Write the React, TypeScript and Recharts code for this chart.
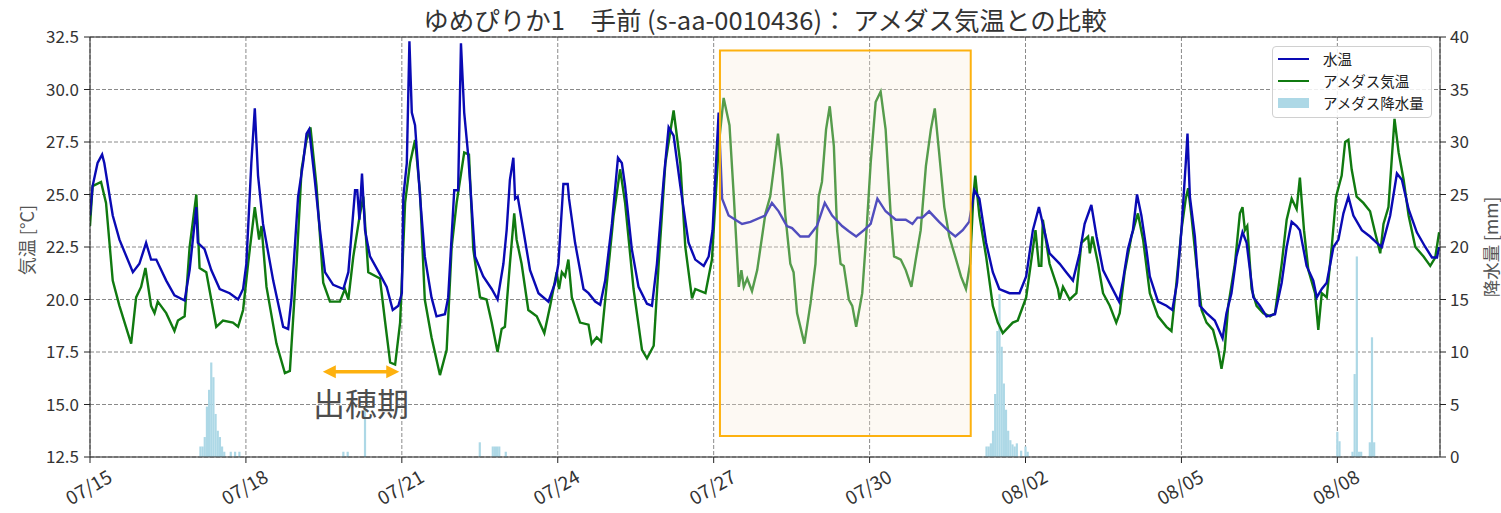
import React from 'react';
import {
  ComposedChart, Line, Bar, XAxis, YAxis, CartesianGrid,
  ReferenceArea, ReferenceLine, ReferenceDot, Legend,
} from 'recharts';

const FONT = '"Noto Sans CJK JP", "Noto Sans", sans-serif';
const BLUE = '#0a0ab4';
const GREEN = '#107a10';
const RAIN = '#add8e6';
const ORANGE = '#FDB10F';

const chartTitle = 'ゆめぴりか1　手前 (s-aa-0010436)： アメダス気温との比較';
const seriesNames = ['水温', 'アメダス気温', 'アメダス降水量'];
const leftAxisTitle = '気温 [°C]';
const rightAxisTitle = '降水量 [mm]';
const headingText = '出穂期';

// hours since 07/15 00:00
const tickHours = [0, 72, 144, 216, 288, 360, 432, 504, 576];
const tickLabels = ['07/15', '07/18', '07/21', '07/24', '07/27', '07/30', '08/02', '08/05', '08/08'];
const tempTicks = [12.5, 15, 17.5, 20, 22.5, 25, 27.5, 30, 32.5];
const rainTicks = [0, 5, 10, 15, 20, 25, 30, 35, 40];

// [hour, °C]
const waterTemp: [number, number][] = [
  [0, 24.0], [1.2, 25.4], [3.5, 26.5], [5.6, 26.9], [6.6, 26.5], [10.5, 24.0], [13.6, 22.85], [19.8, 21.3],
  [22.8, 21.7], [25.9, 22.7], [28.2, 21.9], [30.6, 21.9], [35.2, 20.9], [39.0, 20.2], [43.7, 19.95], [46.0, 21.4],
  [49.1, 24.4], [49.8, 22.7], [52.9, 22.4], [56.0, 21.4], [59.9, 20.5], [64.5, 20.3], [68.4, 20.0], [70.7, 20.5],
  [72.2, 21.7], [74.5, 26.5], [76.1, 29.1], [77.6, 25.9], [79.9, 23.6], [84.6, 20.9], [89.2, 18.7], [91.5, 18.6],
  [93.0, 20.0], [96.1, 24.9], [98.4, 26.5], [100.0, 27.9], [101.2, 28.1], [103.8, 25.7], [106.2, 23.3], [108.5, 21.3],
  [112.3, 20.7], [117.0, 20.5], [119.3, 21.3], [122.4, 25.2], [123.4, 25.2], [124.4, 23.8], [125.6, 26.0], [127.0, 23.3],
  [129.3, 22.05], [133.9, 21.2], [137.0, 20.6], [139.8, 19.5], [142.4, 19.7], [144.0, 20.3], [144.7, 24.9], [146.3, 26.5],
  [147.5, 32.3], [148.6, 28.9], [150.1, 28.3], [152.4, 24.9], [154.6, 22.05], [157.7, 20.1], [160.0, 19.2], [163.9, 19.3],
  [165.4, 20.1], [168.2, 25.2], [170.0, 25.2], [171.3, 32.2], [172.8, 28.9], [174.7, 26.8], [177.8, 22.05], [181.6, 21.1],
  [185.5, 20.5], [188.2, 20.0], [190.9, 21.7], [192.4, 23.3], [193.9, 25.7], [195.5, 26.75], [196.3, 24.8], [197.5, 24.9],
  [199.3, 23.8], [203.2, 21.4], [207.1, 20.3], [211.7, 19.9], [214.8, 20.8], [216.3, 21.7], [218.6, 25.5], [220.6, 25.5],
  [221.2, 24.8], [224.0, 22.7], [227.9, 20.5], [230.2, 20.3], [233.3, 19.9], [235.6, 19.75], [237.9, 20.9], [241.0, 23.6],
  [243.8, 26.75], [245.6, 26.5], [247.1, 25.4], [250.2, 22.4], [253.3, 20.6], [257.2, 19.8], [259.5, 19.7], [261.8, 21.7],
  [264.9, 25.7], [267.2, 28.2], [269.5, 27.8], [272.6, 25.4], [276.4, 22.7], [279.5, 21.9], [283.4, 21.6], [285.7, 22.05],
  [287.5, 23.3], [290.3, 28.9], [291.9, 24.8], [294.9, 24.0], [301.1, 23.6], [305.0, 23.7], [311.8, 24.0], [314.9, 24.6],
  [318.0, 24.2], [321.8, 23.5], [324.2, 23.4], [328.0, 23.0], [331.9, 23.0], [335.7, 23.5], [339.3, 24.6], [342.7, 24.0],
  [347.3, 23.5], [350.4, 23.25], [353.8, 23.0], [357.4, 23.3], [360.5, 23.6], [363.6, 24.8], [367.4, 24.2], [372.1, 23.8],
  [376.7, 23.8], [379.8, 23.6], [382.1, 23.9], [384.4, 23.9], [387.5, 24.2], [392.1, 23.7], [396.0, 23.3], [399.6, 23.0],
  [403.0, 23.3], [406.0, 23.7], [408.4, 25.2], [410.7, 24.8], [413.8, 22.7], [416.9, 21.3], [419.9, 20.5], [424.6, 20.3],
  [429.2, 20.3], [432.3, 21.1], [435.4, 23.3], [438.2, 24.4], [440.0, 23.6], [443.1, 22.2], [447.8, 21.7], [450.8, 21.3],
  [453.9, 20.9], [457.0, 22.2], [459.3, 23.6], [462.4, 24.5], [464.8, 23.0], [467.8, 21.4], [471.7, 20.6], [475.2, 19.9],
  [477.0, 20.9], [479.3, 22.4], [481.6, 23.3], [483.5, 25.0], [485.5, 24.0], [487.8, 22.4], [489.4, 21.1], [493.2, 19.9],
  [497.1, 19.7], [499.8, 19.5], [502.0, 20.8], [504.0, 23.3], [506.0, 26.5], [506.8, 27.9], [507.9, 24.9], [510.2, 23.0],
  [512.5, 19.7], [515.6, 19.35], [519.4, 19.0], [523.0, 18.15], [524.8, 19.35], [527.1, 20.3], [529.4, 22.05], [531.0, 22.7],
  [532.2, 23.2], [534.1, 22.7], [537.2, 20.1], [540.2, 19.7], [543.3, 19.2], [547.2, 19.3], [550.3, 20.8], [552.6, 22.5],
  [554.9, 23.7], [557.2, 23.5], [558.7, 23.3], [561.8, 21.6], [564.9, 20.9], [566.5, 20.1], [568.8, 20.5], [571.1, 20.8],
  [574.2, 22.5], [576.5, 22.85], [578.8, 24.1], [581.1, 24.9], [583.4, 24.0], [587.3, 23.3], [591.1, 23.0], [594.2, 22.7],
  [596.5, 22.5], [600.4, 24.0], [603.5, 26.0], [605.8, 25.7], [608.9, 24.3], [612.7, 23.2], [616.6, 22.5], [619.7, 22.0],
  [622.0, 22.0], [623.0, 22.5],
];

// [hour, °C]
const airTemp: [number, number][] = [
  [0, 23.5], [1.2, 25.4], [5.1, 25.6], [7.4, 24.6], [10.5, 20.9], [13.6, 19.7], [19.0, 17.9], [21.3, 20.1],
  [23.6, 20.6], [25.6, 21.5], [28.2, 19.7], [29.8, 19.35], [31.3, 19.9], [35.2, 19.35], [39.0, 18.5], [40.6, 19.0],
  [43.7, 19.2], [46.0, 22.5], [49.1, 25.0], [50.6, 21.5], [53.7, 21.3], [58.3, 18.7], [61.4, 19.0], [66.0, 18.9],
  [68.4, 18.7], [70.7, 19.5], [73.0, 21.7], [76.1, 24.4], [78.1, 22.85], [79.2, 23.5], [81.5, 20.6], [86.1, 17.9],
  [90.0, 16.5], [92.3, 16.6], [95.4, 21.7], [97.7, 26.2], [100.0, 27.6], [101.8, 28.2], [104.6, 25.4], [107.7, 20.8],
  [110.8, 19.9], [115.4, 19.9], [117.7, 20.5], [119.3, 20.0], [121.6, 22.05], [124.4, 23.9], [126.2, 24.9], [128.5, 21.3],
  [133.9, 21.0], [136.2, 19.0], [138.6, 17.0], [140.9, 16.9], [143.2, 18.9], [145.5, 24.6], [147.8, 26.5], [150.1, 27.6],
  [152.4, 25.1], [154.6, 20.0], [157.7, 18.2], [161.6, 16.4], [164.7, 17.6], [167.0, 22.5], [169.3, 24.6], [172.8, 27.0],
  [175.0, 26.9], [177.0, 22.4], [180.1, 20.1], [183.1, 20.0], [185.5, 18.9], [188.2, 17.5], [190.1, 18.6], [191.6, 18.7],
  [193.9, 21.7], [195.9, 24.1], [197.0, 22.85], [199.3, 21.7], [202.4, 19.5], [206.3, 19.2], [209.8, 18.4], [212.5, 19.7],
  [215.5, 21.3], [216.6, 20.5], [217.9, 21.3], [219.4, 21.1], [220.9, 21.9], [222.5, 20.1], [226.3, 18.9], [230.2, 18.8],
  [231.7, 17.9], [234.0, 18.2], [236.0, 18.0], [238.7, 20.8], [241.8, 24.0], [244.8, 26.2], [247.1, 24.6], [251.0, 20.5],
  [254.9, 17.6], [257.2, 17.2], [260.3, 17.8], [262.6, 21.7], [265.7, 26.5], [269.5, 29.0], [272.6, 26.5], [274.9, 22.5],
  [278.0, 20.05], [279.5, 20.5], [284.2, 20.3], [287.2, 21.9], [290.3, 27.3], [292.6, 29.6], [295.3, 28.3], [297.3, 24.9],
  [299.6, 20.6], [300.8, 21.4], [301.9, 20.6], [303.5, 21.0], [305.7, 20.4], [308.1, 21.4], [311.9, 24.1], [314.1, 24.9],
  [315.7, 26.2], [317.7, 27.9], [319.5, 26.2], [321.1, 24.0], [323.4, 21.7], [324.9, 21.3], [326.5, 19.35], [329.9, 17.9],
  [332.7, 19.8], [335.0, 21.7], [336.5, 24.9], [338.0, 25.6], [339.9, 28.1], [341.6, 29.2], [343.5, 27.3], [345.0, 23.3],
  [346.6, 21.7], [348.1, 21.6], [350.4, 20.0], [352.0, 19.7], [353.8, 18.7], [356.6, 20.3], [358.1, 22.5], [360.5, 26.5],
  [362.8, 29.4], [365.1, 29.9], [367.4, 28.1], [369.7, 24.1], [371.3, 22.05], [374.4, 21.9], [376.7, 21.4], [379.3, 20.6],
  [381.3, 21.9], [383.6, 23.3], [386.0, 26.35], [388.3, 28.1], [390.1, 29.1], [392.1, 27.0], [394.5, 24.4], [396.8, 23.0],
  [399.1, 22.2], [402.2, 21.1], [404.5, 20.5], [406.4, 21.7], [407.9, 24.9], [408.8, 25.9], [410.7, 24.0], [413.8, 22.05],
  [416.9, 19.7], [419.2, 18.9], [421.5, 18.4], [426.1, 18.9], [428.4, 19.0], [432.3, 20.1], [436.6, 23.3], [438.2, 21.6],
  [439.3, 21.6], [440.0, 23.8], [443.1, 21.7], [447.0, 20.5], [447.8, 20.0], [449.3, 20.6], [452.4, 20.0], [455.5, 20.3],
  [457.8, 22.7], [460.9, 23.0], [461.7, 22.2], [462.9, 23.0], [465.5, 21.7], [467.8, 20.3], [470.9, 19.7], [473.9, 18.9],
  [475.5, 19.35], [477.8, 21.3], [480.9, 23.0], [483.9, 24.1], [486.3, 22.85], [489.4, 20.3], [493.2, 19.2], [497.1, 18.7],
  [499.4, 18.5], [501.7, 20.8], [504.0, 23.3], [506.0, 24.8], [507.1, 25.3], [508.6, 24.0], [510.9, 21.7], [513.3, 19.5],
  [515.6, 18.9], [518.6, 18.55], [521.0, 17.6], [522.5, 16.7], [524.0, 17.6], [525.6, 19.7], [528.7, 21.7], [531.0, 24.1],
  [532.2, 24.4], [533.3, 23.3], [534.4, 23.5], [536.4, 20.5], [538.7, 19.7], [541.8, 19.35], [544.9, 19.2], [547.2, 19.35],
  [550.3, 21.7], [552.6, 23.8], [554.9, 24.8], [557.2, 24.3], [558.7, 25.8], [560.6, 23.3], [562.6, 21.4], [565.7, 20.3],
  [567.2, 18.55], [568.8, 20.3], [571.1, 20.1], [573.4, 22.5], [575.4, 24.9], [578.0, 25.9], [579.6, 27.5], [581.1, 27.6],
  [582.6, 26.2], [584.9, 24.9], [588.0, 24.6], [591.1, 24.2], [593.4, 23.2], [595.8, 22.2], [597.3, 23.6], [599.6, 24.4],
  [601.2, 26.8], [602.4, 28.6], [604.3, 27.0], [606.6, 25.7], [608.9, 24.0], [612.0, 22.5], [615.8, 22.05], [618.9, 21.6],
  [621.2, 22.0], [623.0, 23.2],
];

// [hour, mm]
const rainfall: [number, number][] = [
  [51, 1.0], [52, 1.0], [53, 1.9], [54, 4.8], [55, 6.4], [56, 9.0], [57, 7.6], [58, 4.1], [59, 2.5], [60, 1.9],
  [61, 1.0], [62, 0.5], [65, 0.5], [67, 0.5], [69, 0.5], [117, 0.5], [119, 0.5], [127, 4.5], [180, 1.4], [186, 1.0],
  [187, 1.0], [188, 1.0], [189, 1.0], [192, 0.5], [414, 1.0], [415, 1.0], [416, 1.3], [417, 2.5], [418, 6.0], [419, 12.0],
  [420, 15.5], [421, 10.5], [422, 7.0], [423, 4.5], [424, 2.5], [425, 1.6], [426, 1.2], [427, 1.0], [428, 1.3], [430, 0.6],
  [432, 1.0], [433, 0.5], [576, 2.4], [577, 1.5], [583, 0.5], [584, 7.9], [585, 19.1], [586, 0.5], [587, 0.5], [591, 1.4],
  [592, 11.4], [593, 1.4],
];

// annotations (data coordinates)
const highlightHours = [290.9, 406.7];
const highlightTemps = [13.5, 31.86];
const headingArrowHours = [107.5, 142.8];
const headingArrowTemp = 16.56;
const headingTextAt = [125.1, 15.13];

function buildRows() {
  const map = new Map<number, any>();
  const get = (h: number) => {
    let r = map.get(h);
    if (!r) { r = { h }; map.set(h, r); }
    return r;
  };
  waterTemp.forEach(([h, v]) => { get(h).water = v; });
  airTemp.forEach(([h, v]) => { get(h).air = v; });
  rainfall.forEach(([h, v]) => { get(h).rain = v; });
  return Array.from(map.values()).sort((a, b) => a.h - b.h);
}

const XTick = (props: any) => {
  const { x, y, payload } = props;
  const i = tickHours.indexOf(payload.value);
  const cx = x - 2;
  const cy = y + 21;
  return (
    <text x={cx} y={cy} transform={`rotate(-30 ${cx} ${cy})`} textAnchor="middle"
      dominantBaseline="central" fontSize={19} fill="#333" fontFamily={FONT}>
      {i >= 0 ? tickLabels[i] : ''}
    </text>
  );
};

const RainBar = (p: any) => {
  const { x, y, width, height } = p;
  if (!height || height <= 0 || x == null) return null;
  const cx = x + (width || 0) / 2;
  return <rect x={cx - 1.1} y={y} width={2.2} height={height} fill={RAIN} />;
};

const ArrowShape = (p: any) => {
  const { x1, y1, x2, y2 } = p;
  const hl = 13;
  const hw = 6.5;
  return (
    <g>
      <line x1={x1 + hl - 1} y1={y1} x2={x2 - hl + 1} y2={y2} stroke={ORANGE} strokeWidth={3.5} />
      <polygon points={`${x1},${y1} ${x1 + hl},${y1 - hw} ${x1 + hl},${y1 + hw}`} fill={ORANGE} />
      <polygon points={`${x2},${y2} ${x2 - hl},${y2 - hw} ${x2 - hl},${y2 + hw}`} fill={ORANGE} />
    </g>
  );
};

const HeadingLabel = (p: any) => (
  <text x={p.cx} y={p.cy} textAnchor="middle" dominantBaseline="central" fontSize={32}
    fill="#4d4d4d" fontFamily={FONT}>{headingText}</text>
);

const LegendBox = () => {
  const colors = [BLUE, GREEN, RAIN];
  return (
    <div style={{
      width: 160, height: 72, boxSizing: 'border-box', border: '1px solid #d0d0d0', borderRadius: 4,
      background: 'rgba(255,255,255,0.85)', fontFamily: FONT, fontSize: 14.5, color: '#222', paddingTop: 1,
    }}>
      {seriesNames.map((n, i) => (
        <div key={n} style={{ height: 22, display: 'flex', alignItems: 'center' }}>
          {i < 2 ? (
            <div style={{ marginLeft: 5, width: 31, height: 2, background: colors[i] }} />
          ) : (
            <div style={{ marginLeft: 5, width: 31, height: 10, background: colors[i] }} />
          )}
          <span style={{ marginLeft: 14, lineHeight: '22px' }}>{n}</span>
        </div>
      ))}
    </div>
  );
};

export default function App() {
  const rows = buildRows();
  return (
    <div style={{ position: 'absolute', left: 0, top: 0, width: 1501, height: 513, background: '#fff', fontFamily: FONT }}>
      <ComposedChart width={1501} height={513} data={rows} margin={{ top: 37, right: 0, bottom: 0, left: 0 }}>
        <CartesianGrid yAxisId="left" stroke="#8a8a8a" strokeDasharray="4 2" />
        <XAxis dataKey="h" type="number" domain={[0, 623.4]} ticks={tickHours} interval={0}
          allowDataOverflow tick={<XTick />} tickSize={6} height={56} stroke="#222" />
        <YAxis yAxisId="left" domain={[12.5, 32.5]} ticks={tempTicks} interval={0} allowDataOverflow
          tickFormatter={(v: number) => v.toFixed(1)} width={90} tickSize={6} tickMargin={5} stroke="#222"
          tick={{ fontSize: 17, fill: '#333', fontFamily: FONT }}
          label={(p: any) => {
            const vb = p.viewBox || { x: 0, y: 37, width: 90, height: 420 };
            const cx = vb.x + 26;
            const cy = vb.y + vb.height / 2 - 7;
            return (
              <text x={cx} y={cy} transform={`rotate(-90 ${cx} ${cy})`} textAnchor="middle"
                dominantBaseline="central" fontSize={18} fill="#555" fontFamily={FONT}>{leftAxisTitle}</text>
            );
          }} />
        <YAxis yAxisId="right" orientation="right" domain={[0, 40]} ticks={rainTicks} interval={0}
          allowDataOverflow width={61} tickSize={6} tickMargin={4} stroke="#222"
          tick={{ fontSize: 17, fill: '#333', fontFamily: FONT }}
          label={(p: any) => {
            const vb = p.viewBox || { x: 1440, y: 37, width: 61, height: 420 };
            const cx = vb.x + 50;
            const cy = vb.y + vb.height / 2;
            return (
              <text x={cx} y={cy} transform={`rotate(-90 ${cx} ${cy})`} textAnchor="middle"
                dominantBaseline="central" fontSize={17.5} fill="#555" fontFamily={FONT}>{rightAxisTitle}</text>
            );
          }} />
        <Bar yAxisId="right" dataKey="rain" fill={RAIN} barSize={2.2} shape={RainBar} isAnimationActive={false} />
        <Line yAxisId="left" dataKey="air" stroke={GREEN} strokeWidth={2.4} dot={false} connectNulls
          type="linear" isAnimationActive={false} />
        <Line yAxisId="left" dataKey="water" stroke={BLUE} strokeWidth={2.4} dot={false} connectNulls
          type="linear" isAnimationActive={false} />
        <ReferenceLine yAxisId="left" y={32.5} stroke="#222" />
        <ReferenceArea yAxisId="left" x1={highlightHours[0]} x2={highlightHours[1]} y1={highlightTemps[0]}
          y2={highlightTemps[1]} fill="#faebd7" fillOpacity={0.3} stroke={ORANGE} strokeWidth={2}
          strokeOpacity={1} zIndex={450} />
        <ReferenceLine yAxisId="left" segment={[{ x: headingArrowHours[0], y: headingArrowTemp }, { x: headingArrowHours[1], y: headingArrowTemp }]}
          shape={ArrowShape} zIndex={460} />
        <ReferenceDot yAxisId="left" x={headingTextAt[0]} y={headingTextAt[1]} r={0} shape={HeadingLabel}
          ifOverflow="visible" zIndex={470} />
        <Legend layout="horizontal" verticalAlign="middle" align="center" content={<LegendBox />}
          wrapperStyle={{ position: 'absolute', left: 1272, top: 46, width: 160, height: 72 }} />
      </ComposedChart>
      <div style={{
        position: 'absolute', left: 265, width: 1000, top: 4, textAlign: 'center', fontSize: 25.5,
        lineHeight: '30px', color: '#333', fontFamily: FONT, whiteSpace: 'nowrap',
      }}>{chartTitle}</div>
    </div>
  );
}
